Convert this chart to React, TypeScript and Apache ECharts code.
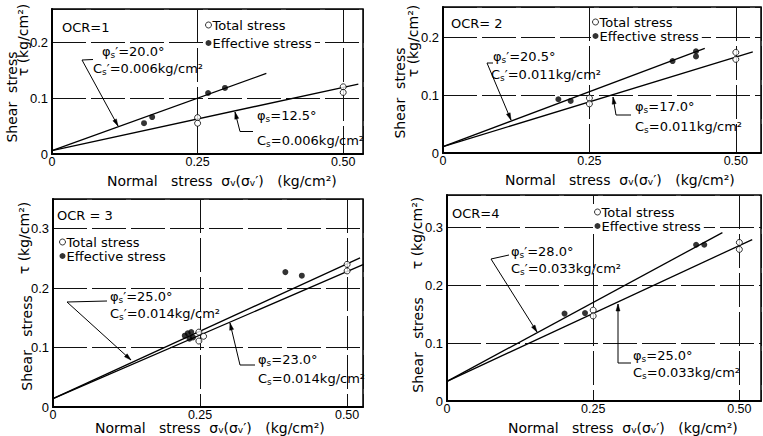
import React, { useEffect, useRef } from "react";
import * as echarts from "echarts";

// ---------- data ----------
const ocrLabels = ["OCR=1", "OCR= 2", "OCR = 3", "OCR=4"];
const xTickLabels = ["0", "0.25", "0.50"];
const xMaxValues = [0.534, 0.543, 0.527, 0.537];
const yMaxValues = [0.259, 0.2525, 0.35, 0.356];

// effective stress points (filled)
const eff1 = [[0.158, 0.055], [0.172, 0.066], [0.268, 0.109], [0.297, 0.118]];
const eff2 = [[0.197, 0.093], [0.218, 0.090], [0.392, 0.159], [0.432, 0.176], [0.432, 0.167]];
const eff3 = [[0.224, 0.120], [0.229, 0.124], [0.235, 0.126], [0.238, 0.117], [0.232, 0.115], [0.395, 0.227], [0.423, 0.221]];
const eff4 = [[0.201, 0.151], [0.236, 0.152], [0.426, 0.270], [0.44, 0.270]];

// total stress points (open)
const tot1 = [[0.25, 0.065], [0.25, 0.055], [0.5, 0.120], [0.5, 0.110]];
const tot2 = [[0.25, 0.095], [0.25, 0.085], [0.5, 0.174], [0.5, 0.162]];
const tot3 = [[0.248, 0.126], [0.248, 0.111], [0.256, 0.119], [0.5, 0.240], [0.5, 0.229]];
const tot4 = [[0.25, 0.157], [0.25, 0.147], [0.5, 0.274], [0.5, 0.262]];

// fitted strength lines (end points)
const effLine1 = [[0, 0.006], [0.368, 0.144]];
const effLine2 = [[0, 0.011], [0.447, 0.181]];
const effLine3 = [[0, 0.014], [0.522, 0.251]];
const effLine4 = [[0, 0.034], [0.471, 0.291]];
const totLine1 = [[0, 0.006], [0.526, 0.125]];
const totLine2 = [[0, 0.011], [0.529, 0.175]];
const totLine3 = [[0, 0.014], [0.528, 0.240]];
const totLine4 = [[0, 0.034], [0.522, 0.279]];

const phiEff = ["20.0", "20.5", "25.0", "28.0"];
const phiTot = ["12.5", "17.0", "23.0", "25.0"];
const cEff = ["0.006", "0.011", "0.014", "0.033"];
const cTot = ["0.006", "0.011", "0.014", "0.033"];

const effs = [eff1, eff2, eff3, eff4];
const tots = [tot1, tot2, tot3, tot4];
const effLines = [effLine1, effLine2, effLine3, effLine4];
const totLines = [totLine1, totLine2, totLine3, totLine4];

// ---------- layout ----------
const FONT = '"DejaVu Sans", sans-serif';
const TICK_FONT = '"Liberation Sans", Arial, sans-serif';

const gridBoxes = [
  { left: 52, top: 9, width: 311, height: 145 },
  { left: 443, top: 7, width: 318, height: 146 },
  { left: 53, top: 199, width: 310, height: 208 },
  { left: 447, top: 195, width: 314, height: 206 },
];

const legendPos = [
  { left: 204, top: 17, gap: 4 },
  { left: 591, top: 14, gap: 0 },
  { left: 58, top: 234, gap: 0 },
  { left: 593, top: 204, gap: 0 },
];

const ocrPos = [[62, 27], [451, 23], [57, 215], [452, 213]];
const xTitlePos = [[107, 181], [505, 180], [95, 428], [508, 428]];
const yTitles = [
  [{ t: "Shear  stress", x: 12, y: 97 }, { t: "τ (kg/cm²)", x: 23, y: 40 }],
  [{ t: "Shear  stress", x: 400, y: 93 }, { t: "τ (kg/cm²)", x: 413, y: 41 }],
  [{ t: "Shear   stress", x: 27, y: 343 }, { t: "τ (kg/cm²)", x: 24, y: 238 }],
  [{ t: "Shear   stress", x: 418, y: 345 }, { t: "τ (kg/cm²)", x: 417, y: 233 }],
];
const annEffPos = [[[102, 51], [93, 68]], [[493, 56], [491, 74]], [[110, 296], [110, 313]], [[511, 251], [511, 268]]];
const annTotPos = [[[257, 115], [257, 140]], [[635, 106], [635, 126]], [[258, 359], [258, 378]], [[633, 355], [633, 372]]];
const leaderEff = [
  [[93, 59.5], [82, 60], [118, 126]],
  [[493, 63], [487, 63], [511, 120]],
  [[107, 301], [67, 302], [131, 360]],
  [[509, 255], [491, 259], [537, 332]],
];
const leaderTot = [
  [[253, 131.5], [240, 131.5], [235, 112]],
  [[631, 115], [616, 115], [613, 97]],
  [[255, 365], [240, 365], [230, 323]],
  [[631, 363], [618, 363], [618, 304]],
];

const richStyles = {
  t: { fontSize: 13, fontFamily: FONT, lineHeight: 16, fill: "#000" },
  s: { fontSize: 9, fontFamily: FONT, lineHeight: 8, verticalAlign: "bottom", fill: "#000" },
};

function txt(x: number, y: number, text: string, extra: any = {}) {
  return {
    type: "text",
    x,
    y,
    z: 10,
    style: {
      text,
      rich: richStyles,
      fill: "#000",
      fontFamily: FONT,
      fontSize: 13,
      align: "left",
      verticalAlign: "middle",
      ...extra,
    },
  };
}

function leader(points: number[][]) {
  const n = points.length;
  const [tx, ty] = points[n - 1];
  const [px, py] = points[n - 2];
  const dx = tx - px;
  const dy = ty - py;
  const len = Math.sqrt(dx * dx + dy * dy);
  const ux = dx / len;
  const uy = dy / len;
  const L = 7;
  const W = 2;
  const bx = tx - ux * L;
  const by = ty - uy * L;
  return [
    {
      type: "polyline",
      z: 10,
      shape: { points },
      style: { stroke: "#000", lineWidth: 1, fill: null },
    },
    {
      type: "polygon",
      z: 10,
      shape: {
        points: [
          [tx, ty],
          [bx - uy * W, by + ux * W],
          [bx + uy * W, by - ux * W],
        ],
      },
      style: { fill: "#000", stroke: "#000", lineWidth: 0.5 },
    },
  ];
}

export default function App() {
  const ref = useRef<HTMLDivElement>(null);

  useEffect(() => {
    if (!ref.current) return;
    const chart = echarts.init(ref.current, undefined, { renderer: "svg" });

    const grid = gridBoxes.map((g) => ({
      ...g,
      show: true,
      borderColor: "#000",
      borderWidth: 1.5,
      backgroundColor: "transparent",
    }));

    const splitLine = {
      show: true,
      lineStyle: { color: "#111", width: 1, type: [34, 5] as any },
    };

    const xAxis = gridBoxes.map((_, i) => ({
      type: "value",
      gridIndex: i,
      min: 0,
      max: xMaxValues[i],
      interval: 0.25,
      axisLine: { show: true, onZero: false, lineStyle: { color: "#000", width: 2 } },
      axisTick: { show: false },
      splitLine,
      axisLabel: {
        showMaxLabel: false,
        margin: 2,
        color: "#000",
        fontFamily: TICK_FONT,
        fontSize: 12.5,
        lineHeight: 11,
        formatter: (v: number) => {
          const idx = Math.round(v / 0.25);
          return xTickLabels[idx] ?? "";
        },
      },
    }));

    const yAxis = gridBoxes.map((_, i) => ({
      type: "value",
      gridIndex: i,
      min: 0,
      max: yMaxValues[i],
      interval: 0.1,
      axisLine: { show: true, onZero: false, lineStyle: { color: "#000", width: 2 } },
      axisTick: { show: false },
      splitLine,
      axisLabel: {
        showMaxLabel: false,
        margin: 4,
        color: "#000",
        fontFamily: TICK_FONT,
        fontSize: 13,
        formatter: (v: number) => (v === 0 ? "0" : String(+v.toFixed(1))),
      },
    }));

    const series: any[] = [];
    for (let i = 0; i < 4; i++) {
      series.push({
        type: "line",
        name: "Effective fit " + (i + 1),
        xAxisIndex: i,
        yAxisIndex: i,
        data: effLines[i],
        symbol: "none",
        lineStyle: { color: "#000", width: 1.3 },
        z: 2,
        silent: true,
      });
      series.push({
        type: "line",
        name: "Total fit " + (i + 1),
        xAxisIndex: i,
        yAxisIndex: i,
        data: totLines[i],
        symbol: "none",
        lineStyle: { color: "#000", width: 1.3 },
        z: 2,
        silent: true,
      });
      series.push({
        type: "scatter",
        name: "Total stress",
        xAxisIndex: i,
        yAxisIndex: i,
        data: tots[i],
        symbol: "circle",
        symbolSize: 6,
        itemStyle: { color: "#fff", borderColor: "#000", borderWidth: 1 },
        z: 4,
      });
      series.push({
        type: "scatter",
        name: "Effective stress",
        xAxisIndex: i,
        yAxisIndex: i,
        data: effs[i],
        symbol: "circle",
        symbolSize: 6,
        itemStyle: { color: "#000" },
        z: 5,
      });
    }

    const legend = legendPos.map((p) => ({
      orient: "vertical",
      left: p.left,
      top: p.top,
      itemGap: p.gap,
      itemWidth: 6,
      itemHeight: 6,
      padding: [1, 3, 1, 1],
      backgroundColor: "#fff",
      selectedMode: false,
      data: [
        { name: "Total stress", icon: "circle", itemStyle: { color: "#fff", borderColor: "#000", borderWidth: 1 } },
        { name: "Effective stress", icon: "circle", itemStyle: { color: "#000" } },
      ],
      textStyle: { fontFamily: FONT, fontSize: 13, color: "#000", lineHeight: 14, padding: [0, 0, 0, -4] },
    }));

    const graphic: any[] = [];
    for (let i = 0; i < 4; i++) {
      graphic.push(txt(ocrPos[i][0], ocrPos[i][1], ocrLabels[i]));
      graphic.push(
        txt(
          xTitlePos[i][0],
          xTitlePos[i][1],
          "{x|Normal   stress  σ}{xs|v}{x|(σ}{xs|v}{x|′)   (kg/cm²)}",
          {
            rich: {
              x: { fontSize: 14, fontFamily: FONT, lineHeight: 12, fill: "#000" },
              xs: { fontSize: 9, fontFamily: FONT, lineHeight: 6, verticalAlign: "bottom", fill: "#000" },
            },
          }
        )
      );
      for (const yt of yTitles[i]) {
        graphic.push({
          type: "text",
          x: yt.x,
          y: yt.y,
          rotation: Math.PI / 2,
          z: 10,
          style: {
            text: yt.t,
            fill: "#000",
            fontFamily: FONT,
            fontSize: 14,
            align: "center",
            verticalAlign: "middle",
          },
        });
      }
      graphic.push(txt(annEffPos[i][0][0], annEffPos[i][0][1], `{t|φ}{s|s}{t|′=${phiEff[i]}°}`));
      graphic.push(txt(annEffPos[i][1][0], annEffPos[i][1][1], `{t|C}{s|s}{t|′=${cEff[i]}kg/cm²}`));
      graphic.push(txt(annTotPos[i][0][0], annTotPos[i][0][1], `{t|φ}{s|s}{t|=${phiTot[i]}°}`));
      graphic.push(txt(annTotPos[i][1][0], annTotPos[i][1][1], `{t|C}{s|s}{t|=${cTot[i]}kg/cm²}`));
      graphic.push(...leader(leaderEff[i]));
      graphic.push(...leader(leaderTot[i]));
    }

    chart.setOption({
      animation: false,
      backgroundColor: "#fff",
      grid,
      xAxis,
      yAxis,
      legend,
      series,
      graphic,
    });

    return () => {
      chart.dispose();
    };
  }, []);

  return (
    <div
      ref={ref}
      style={{ position: "fixed", left: 0, top: 0, width: 763, height: 436, background: "#fff" }}
    />
  );
}
